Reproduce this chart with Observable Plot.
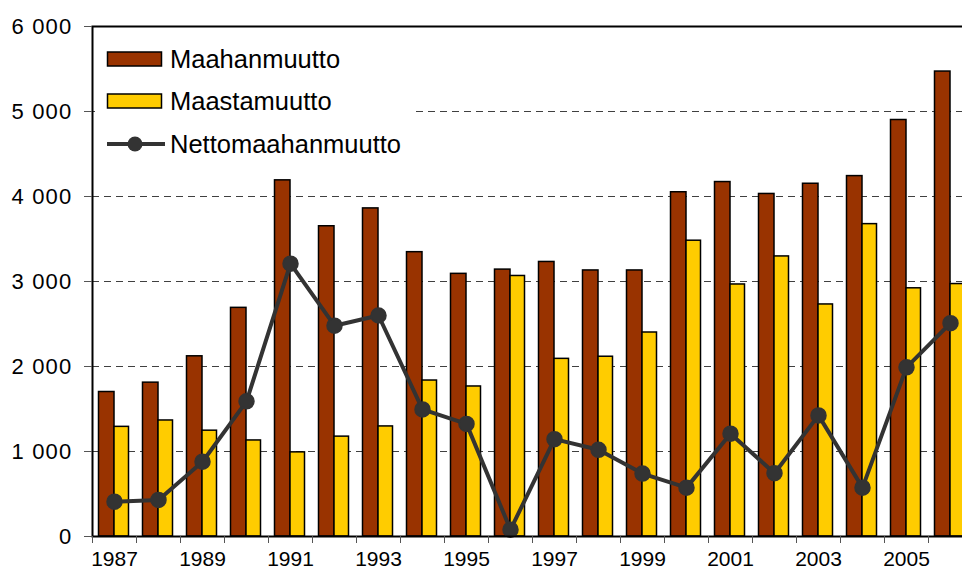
<!DOCTYPE html>
<html>
<head>
<meta charset="utf-8">
<script src="https://cdn.jsdelivr.net/npm/d3@7"></script>
<script src="https://cdn.jsdelivr.net/npm/@observablehq/plot@0.6"></script>
<style>
  html, body { margin: 0; padding: 0; background: #fff; overflow: hidden; width: 962px; height: 576px; }
  #wrap { position: relative; width: 962px; height: 576px; overflow: hidden; }
  #chart svg { display: block; max-width: none !important; }
  #legend { position: absolute; left: 95px; top: 28px; }
</style>
</head>
<body>
<div id="wrap">
  <div id="chart"></div>
  <svg id="legend" width="318" height="142"></svg>
</div>
<script>
const years = [1987,1988,1989,1990,1991,1992,1993,1994,1995,1996,1997,1998,1999,2000,2001,2002,2003,2004,2005,2006];
const maahanmuutto = [1700,1810,2120,2690,4190,3650,3860,3345,3090,3140,3230,3130,3130,4050,4170,4030,4150,4240,4900,5470];
const maastamuutto = [1290,1365,1245,1130,990,1175,1295,1835,1765,3065,2090,2115,2400,3480,2965,3295,2730,3675,2920,2970];
const netto = [410,430,880,1590,3210,2480,2600,1495,1325,80,1145,1020,740,575,1210,745,1425,575,1990,2510];
const yTicks = [0,1000,2000,3000,4000,5000,6000];
const gridTicks = [1000,2000,3000,4000,5000];
const labelYears = [1987,1989,1991,1993,1995,1997,1999,2001,2003,2005];
const seriesNames = ["Maahanmuutto","Maastamuutto","Nettomaahanmuutto"];

const colors = {in: "#993300", out: "#FFCC00", net: "#333333"};
const data = years.map((y, i) => ({year: y, inn: maahanmuutto[i], out: maastamuutto[i], net: netto[i]}));
const fmt = d => d3.format(",")(d).replace(/,/g, "\u00a0");
const font = "'Liberation Sans', Arial, sans-serif";

const chart = Plot.plot({
  width: 980, height: 576,
  marginLeft: 92, marginRight: 8, marginTop: 26, marginBottom: 40,
  style: {fontFamily: font, fontSize: "21px", color: "#000", background: "#fff", maxWidth: "none"},
  x: {type: "band", domain: years, paddingInner: 0, paddingOuter: 0, label: null},
  y: {domain: [0, 6000], label: null},
  marks: [
    Plot.ruleY(gridTicks, {y: d => d, stroke: "#404040", strokeWidth: 1, strokeDasharray: "7,5"}),
    Plot.barY(data, {x: "year", y: "inn", fill: colors.in, stroke: "#000", strokeWidth: 1.5, insetLeft: 6.5, insetRight: 22}),
    Plot.barY(data, {x: "year", y: "out", fill: colors.out, stroke: "#000", strokeWidth: 1.5, insetLeft: 22, insetRight: 7.5}),
    Plot.line(data, {x: "year", y: "net", stroke: colors.net, strokeWidth: 4}),
    Plot.dot(data, {x: "year", y: "net", r: 7.5, fill: colors.net, stroke: colors.net}),
    Plot.frame({stroke: "#000", strokeWidth: 2}),
    Plot.axisY({ticks: yTicks, tickFormat: fmt, tickSize: 8, tickPadding: 12, fontSize: 22, stroke: "#555", label: null}),
    Plot.axisX({ticks: years, tickFormat: () => "", tickSize: 7, dx: -22, stroke: "#555", label: null}),
    Plot.axisX({ticks: labelYears, tickFormat: d => String(d), tickSize: 0, tickPadding: 15, fontSize: 21, label: null})
  ]
});
document.getElementById("chart").appendChild(chart);
d3.select(chart).selectAll('[aria-label="y-axis tick label"] text').attr("letter-spacing", 1.2);

// legend
const lg = d3.select("#legend").style("font-family", font);
lg.append("rect").attr("x", 0).attr("y", 0).attr("width", 318).attr("height", 142).attr("fill", "#fff");
const rows = [
  {name: seriesNames[0], kind: "bar", fill: colors.in, y: 31},
  {name: seriesNames[1], kind: "bar", fill: colors.out, y: 73},
  {name: seriesNames[2], kind: "line", fill: colors.net, y: 116}
];
rows.forEach(r => {
  if (r.kind === "bar") {
    lg.append("rect").attr("x", 12.5).attr("y", r.y - 7).attr("width", 54).attr("height", 14)
      .attr("fill", r.fill).attr("stroke", "#000").attr("stroke-width", 1.5);
  } else {
    lg.append("line").attr("x1", 12).attr("x2", 70).attr("y1", r.y).attr("y2", r.y)
      .attr("stroke", r.fill).attr("stroke-width", 4);
    lg.append("circle").attr("cx", 40).attr("cy", r.y).attr("r", 7.5).attr("fill", r.fill);
  }
  lg.append("text").attr("x", 75).attr("y", r.y + 9).attr("font-size", 25.5).attr("fill", "#000").text(r.name);
});
</script>
</body>
</html>
